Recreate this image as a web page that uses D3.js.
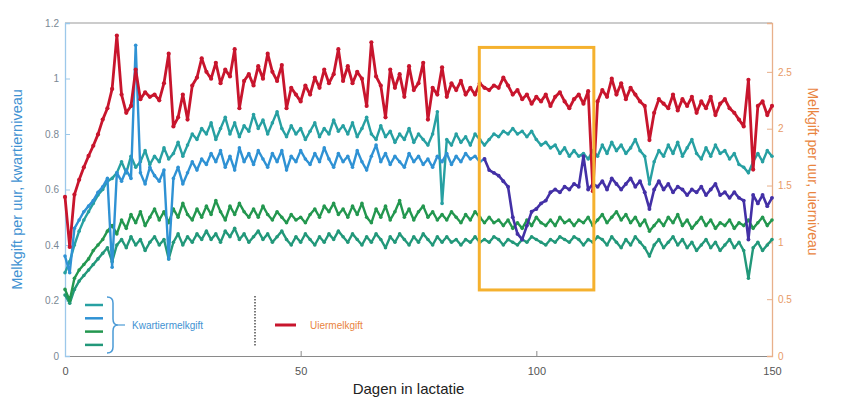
<!DOCTYPE html>
<html lang="nl">
<head>
    <meta charset="UTF-8">
    <title>Melkgift per uur</title>
    <script src="https://d3js.org/d3.v7.min.js"></script>
    <style>
        html, body {
            margin: 0;
            background: #fff;
            font-family: "Liberation Sans", Arial, sans-serif;
        }
    </style>
</head>
<body>
    <div id="vis"></div>

    <script>

        /*
         *  DATA (one value per lactation day 0..150)
         */
        var uier = [
            1.40, 0.96, 1.42, 1.55, 1.66, 1.76, 1.85, 1.95, 2.08, 2.18,
            2.35, 2.82, 2.30, 2.14, 2.20, 2.52, 2.26, 2.32, 2.28, 2.30,
            2.25, 2.40, 2.66, 2.02, 2.10, 2.30, 2.08, 2.38, 2.45, 2.62,
            2.50, 2.44, 2.58, 2.40, 2.52, 2.46, 2.70, 2.18, 2.42, 2.48,
            2.38, 2.55, 2.44, 2.66, 2.50, 2.42, 2.56, 2.18, 2.36, 2.30,
            2.24, 2.38, 2.30, 2.45, 2.36, 2.52, 2.40, 2.48, 2.70, 2.42,
            2.55, 2.40, 2.50, 2.44, 2.20, 2.76, 2.46, 2.38, 2.10, 2.52,
            2.36, 2.48, 2.28, 2.55, 2.34, 2.40, 2.58, 2.08, 2.36, 2.30,
            2.54, 2.28, 2.40, 2.34, 2.42, 2.30, 2.36, 2.30, 2.40, 2.36,
            2.34, 2.38, 2.36, 2.45, 2.38, 2.30, 2.34, 2.26, 2.30, 2.22,
            2.28, 2.24, 2.30, 2.20, 2.28, 2.32, 2.24, 2.18, 2.26, 2.30,
            2.22, 2.33, 1.45, 2.24, 2.34, 2.28, 2.44, 2.30, 2.40, 2.26,
            2.36, 2.30, 2.24, 2.20, 1.90, 2.14, 2.26, 2.22, 2.18, 2.30,
            2.16, 2.26, 2.20, 2.28, 2.14, 2.24, 2.18, 2.28, 2.12, 2.22,
            2.26, 2.18, 2.14, 2.08, 2.02, 2.43, 1.64, 2.20, 2.24, 2.12,
            2.20
        ];

        var kwartier1 = [
            0.30, 0.34, 0.40, 0.45, 0.49, 0.52, 0.55, 0.58, 0.60, 0.63,
            0.64, 0.66, 0.70, 0.66, 0.72, 0.68, 0.70, 0.74, 0.69, 0.72,
            0.70, 0.75, 0.71, 0.73, 0.77, 0.72, 0.76, 0.80, 0.78, 0.82,
            0.80, 0.84, 0.78, 0.82, 0.86, 0.80, 0.84, 0.79, 0.83, 0.81,
            0.87, 0.82, 0.85, 0.80, 0.84, 0.88, 0.82, 0.79, 0.83, 0.80,
            0.82, 0.78, 0.81, 0.84, 0.79, 0.82, 0.80, 0.85, 0.81, 0.83,
            0.80, 0.84, 0.79, 0.82, 0.86, 0.80, 0.78, 0.83, 0.79, 0.81,
            0.77, 0.80, 0.78, 0.82, 0.77, 0.80, 0.78, 0.76, 0.80, 0.88,
            0.55, 0.78, 0.76, 0.80, 0.77, 0.79, 0.76, 0.80, 0.78, 0.76,
            0.78, 0.80, 0.79, 0.81, 0.80, 0.82, 0.80, 0.81, 0.79, 0.81,
            0.78, 0.76, 0.77, 0.75, 0.76, 0.73, 0.75, 0.72, 0.74, 0.72,
            0.73, 0.71, 0.74, 0.72, 0.76, 0.73, 0.77, 0.74, 0.76, 0.73,
            0.75, 0.78, 0.74, 0.72, 0.62, 0.70, 0.74, 0.72, 0.76, 0.73,
            0.77, 0.72, 0.75, 0.78, 0.73, 0.71, 0.75, 0.72, 0.76, 0.73,
            0.74, 0.71, 0.73, 0.69, 0.68, 0.66, 0.70, 0.73, 0.70, 0.74,
            0.72
        ];

        // second quarter: blue up to day 89, purple (highlighted) afterwards
        var kwartier2 = [
            0.36, 0.30, 0.46, 0.49, 0.52, 0.54, 0.56, 0.59, 0.61, 0.64,
            0.32, 0.66, 0.63, 0.67, 0.64, 1.12, 0.66, 0.62, 0.68, 0.65,
            0.63, 0.67, 0.35, 0.64, 0.68, 0.62, 0.66, 0.70, 0.67, 0.71,
            0.69, 0.73, 0.70, 0.74, 0.68, 0.72, 0.67, 0.75, 0.70, 0.73,
            0.69, 0.74, 0.71, 0.68, 0.73, 0.70, 0.74, 0.67, 0.72, 0.70,
            0.74, 0.71, 0.69, 0.73, 0.70, 0.75, 0.71, 0.68, 0.73, 0.70,
            0.72, 0.68, 0.74, 0.70, 0.67, 0.72, 0.76, 0.70, 0.73, 0.69,
            0.72, 0.70, 0.68, 0.73, 0.70, 0.72, 0.69, 0.71, 0.68, 0.72,
            0.70, 0.73, 0.69, 0.72, 0.70, 0.73, 0.71, 0.72, 0.70, 0.71,
            0.67, 0.66, 0.65, 0.63, 0.61, 0.50, 0.44, 0.42, 0.47, 0.52,
            0.53, 0.55, 0.56, 0.59, 0.60, 0.59, 0.61, 0.60, 0.62, 0.61,
            0.72, 0.60, 0.62, 0.61, 0.63, 0.60, 0.64, 0.62, 0.60, 0.62,
            0.64, 0.61, 0.63, 0.59, 0.53, 0.60, 0.63, 0.60, 0.62, 0.59,
            0.61, 0.60, 0.58, 0.60, 0.59, 0.61, 0.58, 0.60, 0.62, 0.58,
            0.59, 0.57, 0.59, 0.57, 0.56, 0.42, 0.58, 0.55, 0.58, 0.54,
            0.57
        ];

        var kwartier3 = [
            0.24, 0.20, 0.28, 0.31, 0.33, 0.35, 0.38, 0.40, 0.42, 0.45,
            0.47, 0.44, 0.49, 0.46, 0.51, 0.48, 0.52, 0.47, 0.50, 0.53,
            0.49, 0.52, 0.48, 0.53, 0.50, 0.55, 0.51, 0.49, 0.53, 0.50,
            0.54, 0.51, 0.56, 0.52, 0.49, 0.54, 0.51, 0.55, 0.52, 0.50,
            0.53, 0.50, 0.54, 0.51, 0.49, 0.52, 0.50, 0.48, 0.51, 0.49,
            0.50, 0.48, 0.51, 0.53, 0.50, 0.54, 0.52, 0.55, 0.51, 0.53,
            0.50, 0.54, 0.51, 0.55, 0.50, 0.48, 0.53, 0.50, 0.54, 0.49,
            0.52, 0.56, 0.50, 0.53, 0.49, 0.52, 0.54, 0.50, 0.52, 0.49,
            0.51, 0.49, 0.52, 0.50, 0.48, 0.51, 0.49, 0.52, 0.50, 0.48,
            0.50, 0.48, 0.49, 0.47, 0.49, 0.46, 0.48, 0.46, 0.49, 0.47,
            0.50, 0.48, 0.47, 0.49, 0.47, 0.50, 0.48, 0.49, 0.47, 0.49,
            0.48, 0.50, 0.47, 0.49, 0.51, 0.48, 0.50, 0.52, 0.49, 0.51,
            0.48, 0.50, 0.47, 0.49, 0.45, 0.47, 0.49, 0.47, 0.50, 0.48,
            0.51, 0.47, 0.49, 0.46, 0.48, 0.50, 0.47, 0.49, 0.46, 0.48,
            0.47, 0.49, 0.46, 0.48, 0.47, 0.49, 0.46, 0.48, 0.50, 0.47,
            0.49
        ];

        var kwartier4 = [
            0.22, 0.19, 0.24, 0.27, 0.29, 0.31, 0.33, 0.35, 0.37, 0.39,
            0.34, 0.40, 0.42, 0.39, 0.43, 0.40, 0.42, 0.38, 0.41, 0.43,
            0.40, 0.42, 0.35, 0.41, 0.44, 0.40, 0.43, 0.41, 0.44, 0.42,
            0.45, 0.42, 0.44, 0.41, 0.45, 0.43, 0.46, 0.42, 0.44, 0.41,
            0.43, 0.45, 0.42, 0.44, 0.41, 0.43, 0.45, 0.42, 0.40, 0.43,
            0.41, 0.44, 0.42, 0.40, 0.43, 0.41, 0.44, 0.42, 0.45, 0.43,
            0.41, 0.44, 0.42, 0.40, 0.43, 0.41, 0.44, 0.42, 0.39, 0.43,
            0.41, 0.44, 0.42, 0.40, 0.43, 0.41, 0.44, 0.42, 0.40, 0.43,
            0.41, 0.43, 0.41, 0.42, 0.40, 0.42, 0.41, 0.43, 0.41, 0.42,
            0.41, 0.43, 0.42, 0.40, 0.42, 0.41, 0.40, 0.42, 0.41, 0.43,
            0.42, 0.41, 0.40, 0.42, 0.41, 0.43, 0.42, 0.41, 0.43, 0.42,
            0.40, 0.42, 0.41, 0.43, 0.42, 0.40, 0.43, 0.41, 0.39, 0.42,
            0.40, 0.43, 0.41, 0.39, 0.36, 0.40, 0.42, 0.39, 0.41, 0.43,
            0.40, 0.42, 0.39, 0.41, 0.38, 0.40, 0.42, 0.39, 0.41, 0.38,
            0.40, 0.42, 0.39, 0.41, 0.38, 0.28, 0.39, 0.41, 0.38, 0.40,
            0.42
        ];

        var purpleFrom = 89;                 // day where quarter 2 turns purple
        var highlight = [87.9, 112.2, 0.238, 1.112];   // day0, day1, kw-low, kw-high

        var xTicks = [0, 50, 100, 150];
        var leftTicks = [0, 0.2, 0.4, 0.6, 0.8, 1, 1.2];
        var rightTicks = [0, 0.5, 1, 1.5, 2, 2.5];

        /*
         *  DECLARATION BLOCK
         */
        var W = 854, H = 401;
        var margin = {top: 23, bottom: 45, left: 65, right: 82};
        var width = W - margin.left - margin.right;
        var height = H - margin.top - margin.bottom;

        var svg = d3.select('#vis')
            .append('svg')
                .attr('width', W)
                .attr('height', H)
            .append('g')
                .attr('transform', 'translate(' + margin.left + ',' + margin.top + ')');

        var x_scale = d3.scaleLinear().domain([0, 150]).range([0, width]);
        var y_left = d3.scaleLinear().domain([0, 1.2]).range([height, 0]);
        var y_right = d3.scaleLinear().domain([0, 2.93]).range([height, 0]);

        var days = d3.range(0, uier.length);

        // frame top
        svg.append('line')
            .attr('x1', 0).attr('x2', width)
            .attr('y1', 0).attr('y2', 0)
            .attr('stroke', '#9a9a9a').attr('stroke-width', 1.2);

        // x axis
        var gx = svg.append('g')
            .attr('transform', 'translate(0,' + height + ')')
            .call(d3.axisBottom(x_scale).tickValues(xTicks).tickSize(-5).tickPadding(11));
        gx.select('.domain').attr('stroke', '#8a8a8a');
        gx.selectAll('.tick line').attr('stroke', '#8a8a8a');
        gx.selectAll('text').attr('fill', '#555').style('font-size', '11px');

        // left axis
        var gl = svg.append('g')
            .call(d3.axisLeft(y_left).tickValues(leftTicks).tickSize(-5).tickPadding(6)
                .tickFormat(d3.format('~g')));
        gl.select('.domain').attr('stroke', '#9cc8ea').attr('stroke-width', 1.3);
        gl.selectAll('.tick line').attr('stroke', '#9cc8ea');
        gl.selectAll('text').attr('fill', '#7a8894').style('font-size', '10px');

        // right axis
        var gr = svg.append('g')
            .attr('transform', 'translate(' + width + ',0)')
            .call(d3.axisRight(y_right).tickValues(rightTicks).tickSize(-5).tickPadding(6)
                .tickFormat(d3.format('~g')));
        gr.select('.domain').attr('stroke', '#e8b08a').attr('stroke-width', 1.3);
        gr.selectAll('.tick line').attr('stroke', '#e8b08a');
        gr.selectAll('text').attr('fill', '#e89a66').style('font-size', '10px');

        // axis titles
        svg.append('text')
            .attr('transform', 'translate(' + (-43) + ',' + (height / 2) + ') rotate(-90)')
            .attr('text-anchor', 'middle')
            .attr('fill', '#3f92d2')
            .style('font-size', '14.5px')
            .text('Melkgift per uur, kwartierniveau');

        svg.append('text')
            .attr('transform', 'translate(' + (width + 36) + ',' + (height / 2 - 18) + ') rotate(90)')
            .attr('text-anchor', 'middle')
            .attr('fill', '#e9843e')
            .style('font-size', '14px')
            .text('Melkgift per uur, uierniveau');

        svg.append('text')
            .attr('x', width / 2 - 10)
            .attr('y', height + 38)
            .attr('text-anchor', 'middle')
            .attr('fill', '#222')
            .style('font-size', '15px')
            .text('Dagen in lactatie');

        /*
         *  LINES (with small point markers, as in the original)
         */
        function lineOn(yScale, values) {
            return d3.line()
                .x(function(d) { return x_scale(d); })
                .y(function(d) { return yScale(values[d]); });
        }

        function draw(values, yScale, color, from, to, w) {
            var dd = days.filter(function(d) { return d >= from && d <= to; });
            svg.append('path')
                .datum(dd)
                .attr('fill', 'none')
                .attr('stroke', color)
                .attr('stroke-width', w)
                .attr('stroke-linejoin', 'round')
                .attr('d', lineOn(yScale, values));
            svg.append('g').selectAll('circle')
                .data(dd)
                .enter().append('circle')
                    .attr('cx', function(d) { return x_scale(d); })
                    .attr('cy', function(d) { return yScale(values[d]); })
                    .attr('r', w * 0.75)
                    .attr('fill', color);
        }

        draw(kwartier4, y_left, '#22987a', 0, 150, 2.4);
        draw(kwartier3, y_left, '#23974f', 0, 150, 2.4);
        draw(kwartier1, y_left, '#27a0a2', 0, 150, 2.4);
        draw(kwartier2, y_left, '#2f92d4', 0, purpleFrom, 2.4);
        draw(kwartier2, y_left, '#4330a6', purpleFrom, 150, 2.6);
        draw(uier, y_right, '#c8152d', 0, 150, 2.8);

        // highlighted period
        svg.append('rect')
            .attr('x', x_scale(highlight[0]))
            .attr('y', y_left(highlight[3]))
            .attr('width', x_scale(highlight[1]) - x_scale(highlight[0]))
            .attr('height', y_left(highlight[2]) - y_left(highlight[3]))
            .attr('fill', 'none')
            .attr('stroke', '#f5b12e')
            .attr('stroke-width', 3);

        /*
         *  LEGEND
         */
        var legColors = ['#27a0a2', '#2f92d4', '#23974f', '#22987a'];
        var leg = svg.append('g').attr('transform', 'translate(20,282)');

        leg.selectAll('line.kw')
            .data(legColors)
            .enter().append('line')
                .attr('class', 'kw')
                .attr('x1', 0).attr('x2', 18)
                .attr('y1', function(d, i) { return i * 13.3; })
                .attr('y2', function(d, i) { return i * 13.3; })
                .attr('stroke', function(d) { return d; })
                .attr('stroke-width', 2.5);

        // curly brace
        leg.append('path')
            .attr('d', 'M22,-8 Q28,-8 28,-2 L28,14 Q28,20 33,20 Q28,20 28,26 L28,42 Q28,48 22,48')
            .attr('fill', 'none')
            .attr('stroke', '#4a9ad6')
            .attr('stroke-width', 1.5);
        leg.append('line')
            .attr('x1', 33).attr('x2', 40).attr('y1', 20).attr('y2', 20)
            .attr('stroke', '#4a9ad6').attr('stroke-width', 1.2);
        leg.append('text')
            .attr('x', 47).attr('y', 23.5)
            .attr('fill', '#3f92d2')
            .style('font-size', '10px')
            .text('Kwartiermelkgift');

        leg.append('line')
            .attr('x1', 170).attr('x2', 170).attr('y1', -9).attr('y2', 42)
            .attr('stroke', '#222').attr('stroke-width', 1.2)
            .attr('stroke-dasharray', '1.5,1.5');

        leg.append('line')
            .attr('x1', 190).attr('x2', 211).attr('y1', 20).attr('y2', 20)
            .attr('stroke', '#c8152d').attr('stroke-width', 3);
        leg.append('text')
            .attr('x', 225).attr('y', 23.5)
            .attr('fill', '#e9843e')
            .style('font-size', '10px')
            .text('Uiermelkgift');

    </script>
</body>
</html>
